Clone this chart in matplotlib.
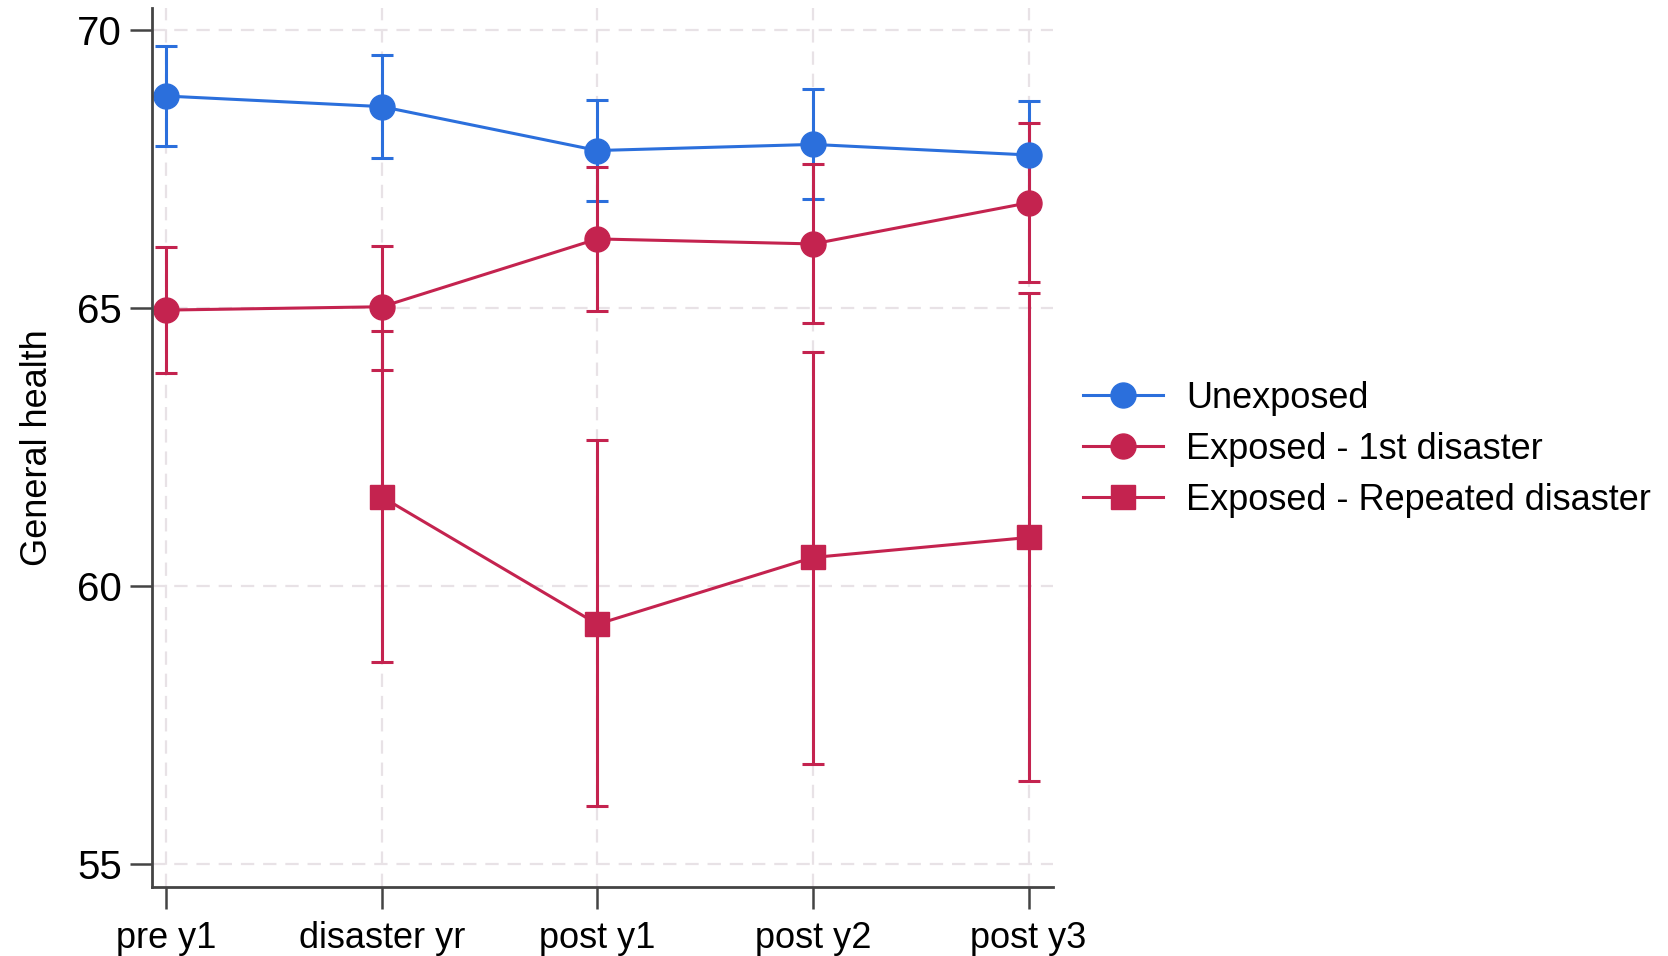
import matplotlib.pyplot as plt
import numpy as np

plt.rcParams['font.family'] = ['Liberation Sans', 'DejaVu Sans']

# waves and group estimates (mean with 95% CI)
waves = ["pre y1", "disaster yr", "post y1", "post y2", "post y3"]

unexp_mean = [68.81, 68.62, 67.83, 67.94, 67.75]
unexp_lo = [67.92, 67.70, 66.93, 66.96, 66.78]
unexp_hi = [69.71, 69.55, 68.74, 68.93, 68.72]

first_mean = [64.96, 65.02, 66.24, 66.15, 66.89]
first_lo = [63.82, 63.88, 64.95, 64.72, 65.46]
first_hi = [66.09, 66.12, 67.53, 67.58, 68.32]

# repeated disaster group starts at the disaster year
rep_waves = ["disaster yr", "post y1", "post y2", "post y3"]
rep_mean = [61.60, 59.31, 60.51, 60.87]
rep_lo = [58.63, 56.04, 56.80, 56.49]
rep_hi = [64.59, 62.63, 64.21, 65.26]

blue = '#2b6fdc'
red = '#c4234f'

fig = plt.figure(figsize=(16.68, 9.56), dpi=100)
ax = fig.add_axes([0.0914, 0.072, 0.54, 0.92])

x = np.arange(len(waves))
xr = np.array([waves.index(w) for w in rep_waves])


def draw(xs, m, lo, hi, color, marker, ms, label):
    m = np.array(m)
    err = [m - np.array(lo), np.array(hi) - m]
    ax.errorbar(xs, m, yerr=err, color=color, marker=marker, markersize=ms,
                linewidth=2.2, elinewidth=2.2, capsize=8, capthick=2.2,
                label=label)


draw(x, unexp_mean, unexp_lo, unexp_hi, blue, 'o', 18, "Unexposed")
draw(x, first_mean, first_lo, first_hi, red, 'o', 18, "Exposed - 1st disaster")
draw(xr, rep_mean, rep_lo, rep_hi, red, 's', 17, "Exposed - Repeated disaster")

ax.set_xlim(-0.064, 4.114)
ax.set_ylim(54.58, 70.4)
ax.set_xticks(x)
ax.set_xticklabels(waves)
ax.set_yticks([55, 60, 65, 70])
ax.set_ylabel("General health", fontsize=26, labelpad=16)

ax.tick_params(axis='both', direction='out', length=16,
               width=1.8, color='#444444')
ax.tick_params(axis='x', labelsize=26, pad=8)
ax.tick_params(axis='y', labelsize=29, pad=6)
ax.grid(True, linestyle=(0, (6, 4)), color='#e8e2e6', linewidth=1.6)
ax.set_axisbelow(True)
for s in ['top', 'right']:
    ax.spines[s].set_visible(False)
for s in ['left', 'bottom']:
    ax.spines[s].set_color('#444444')
    ax.spines[s].set_linewidth(2)

handles, labels = ax.get_legend_handles_labels()
handles = [h[0] for h in handles]
fig.legend(handles, labels, loc='center left', bbox_to_anchor=(0.63, 0.53),
           frameon=False, fontsize=26, handlelength=2.2, handletextpad=0.65,
           labelspacing=0.45)

fig.savefig('out.png', dpi=100)
